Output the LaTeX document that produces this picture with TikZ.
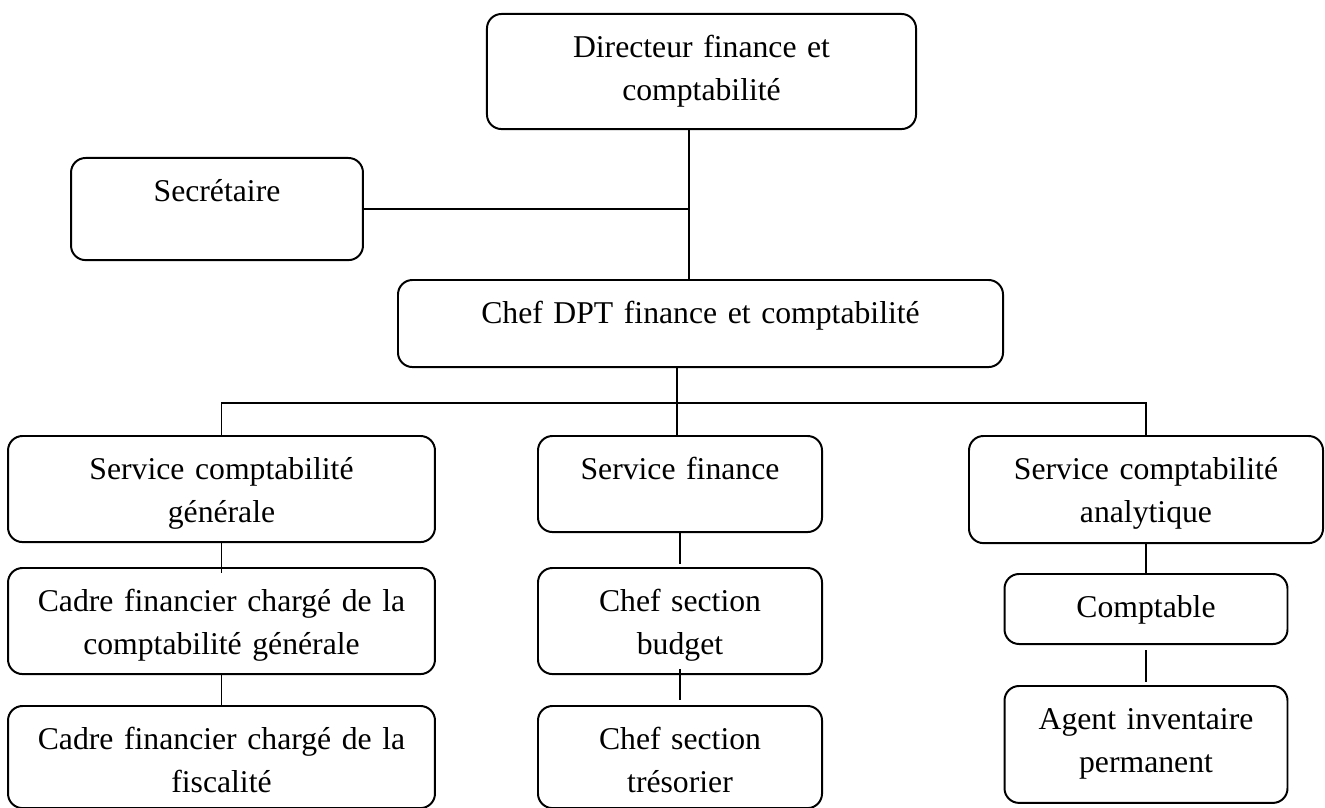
\documentclass[tikz,border=0pt]{standalone}
\usepackage{fontspec}
\setmainfont{Liberation Serif}
\usetikzlibrary{positioning}
\tikzset{
  orgbox/.style={draw, rounded corners=5.5pt, line width=0.75pt, anchor=north, inner sep=0pt,
    align=center, text height=16.65pt, font=\fontsize{12pt}{16pt}\selectfont},
  link/.style={line width=0.75pt}
}

\begin{document}
\begin{tikzpicture}[x=0.3785pt, y=-0.3785pt]
  \path[fill=white, use as bounding box] (0,0) rectangle (1325,808);
  % top of the chart
  \node[orgbox, text width=162.4pt, text depth=26.9pt] (dir) at (701.5,13) {Directeur finance et\\comptabilité};
  \node[orgbox, text width=110.5pt, text depth=22.0pt] (sec) at (217,157) {Secrétaire};
  \node[orgbox, text width=229.0pt, text depth=16.3pt] (chef) at (700.5,279) {Chef DPT finance et comptabilité};
  % services
  \node[orgbox, text width=161.6pt, text depth=23.5pt] (scg) at (221.5,435) {Service comptabilité\\générale};
  \node[orgbox, text width=107.5pt, text depth=19.7pt] (sf) at (680,435) {Service finance};
  \node[orgbox, text width=134.0pt, text depth=23.9pt] (sca) at (1146,435) {Service comptabilité\\analytique};
  % left column
  \node[orgbox, text width=161.6pt, text depth=23.5pt] (cfcg) at (221.5,567) {Cadre financier chargé de la\\comptabilité générale};
  \node[orgbox, text width=161.6pt, text depth=22.0pt] (cff) at (221.5,705) {Cadre financier chargé de la\\fiscalité};
  % middle column
  \node[orgbox, text width=107.5pt, text depth=23.5pt] (csb) at (680,567) {Chef section\\budget};
  \node[orgbox, text width=107.5pt, text depth=22.0pt] (cst) at (680,705) {Chef section\\trésorier};
  % right column
  \node[orgbox, text width=107.1pt, text depth=9.85pt] (compt) at (1146,573) {Comptable};
  \node[orgbox, text width=107.1pt, text depth=27.6pt] (agent) at (1146,685) {Agent inventaire\\permanent};

  \coordinate (jdir) at (689,209);
  \coordinate (jbar) at (677,403);
  \draw[link] (dir.south -| jdir) -- (chef.north -| jdir);
  \draw[link] (sec.east |- jdir) -- (jdir);
  \draw[link] (chef.south -| jbar) -- (jbar);
  \draw[link] (scg.north) |- (jbar) -| (sca.north);
  \draw[link] (jbar) -- (sf.north -| jbar);
  \draw[link, shorten >=-2.3pt] (scg) -- (cfcg);
  \draw[link] (cfcg) -- (cff);
  \draw[link, shorten >=1pt] (sf) -- (csb);
  \draw[link, shorten <=-2.3pt, shorten >=2pt] (csb) -- (cst);
  \draw[link] (sca) -- (compt);
  \draw[link, shorten <=2pt, shorten >=1pt] (compt) -- (agent);
\end{tikzpicture}
\end{document}
